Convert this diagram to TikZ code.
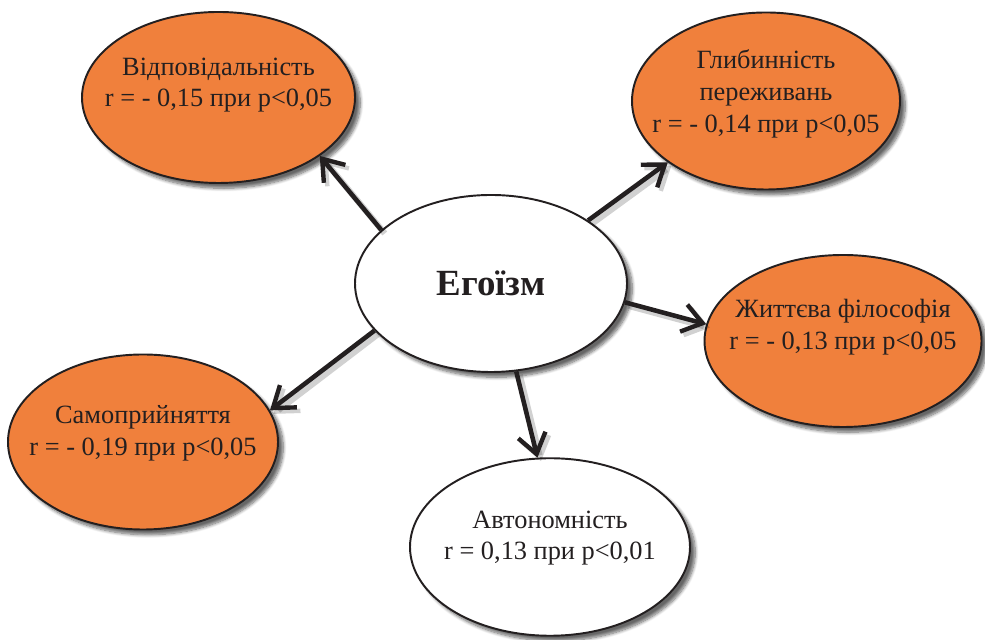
\documentclass[tikz,border=0pt]{standalone}
\usepackage{fontspec}
\setmainfont{Liberation Serif}
\usepackage{tikz}
\usetikzlibrary{shapes,arrows.meta,shadows,shadows.blur,positioning}
\definecolor{egoorange}{RGB}{240,128,60}
\definecolor{egotext}{RGB}{35,31,32}

\begin{document}
\begin{tikzpicture}[>={Straight Barb[length=3.9mm,width=5.6mm,line width=2.5pt]},
  font=\fontsize{15}{18}\selectfont]
\tikzset{bubble/.style = {draw=egotext, ellipse, line width=1.1pt,
  inner sep=-1cm, fill=egoorange,
  blur shadow={shadow xshift=3pt, shadow yshift=-3pt, shadow blur steps=8,
    shadow opacity=60}}}
\tikzset{caption/.style = {align=center, text=egotext, yshift=5pt}}
\tikzset{link/.style = {->, line width=2.6pt, draw=egotext,
  preaction={draw=black, opacity=.18, line width=3.5pt,
    transform canvas={xshift=2pt, yshift=-2pt}}}}

  \useasboundingbox (0,0) rectangle (19.7,12.8);

  \node[bubble, fill=white, minimum width=5.44cm, minimum height=3.54cm,
    label={[caption, yshift=-5pt, font=\fontsize{21}{24}\selectfont\bfseries]center:Егоїзм}]
    at (9.82,7.13) (egoism){};

  \node[bubble, minimum width=5.46cm, minimum height=3.42cm,
    label={[caption, yshift=2pt]center:Відповідальність\\r = - 0,15 при p<0,05}]
    at (4.37,10.85) (resp){};
  \node[bubble, minimum width=5.36cm, minimum height=3.54cm,
    label={[caption, yshift=-1pt]center:Глибинність\\переживань\\r = - 0,14 при p<0,05}]
    at (15.32,10.78) (depth){};
  \node[bubble, minimum width=5.54cm, minimum height=3.44cm,
    label={[caption, yshift=3pt]center:Життєва філософія\\r = - 0,13 при p<0,05}]
    at (16.86,5.98) (life){};
  \node[bubble, minimum width=5.4cm, minimum height=3.5cm,
    label={[caption]center:Самоприйняття\\r = - 0,19 при p<0,05}]
    at (2.86,3.96) (selfacc){};
  \node[bubble, fill=white, minimum width=5.6cm, minimum height=3.55cm,
    label={[caption]center:Автономність\\r = 0,13 при p<0,01}]
    at (11.0,1.86) (auton){};

  \draw[link] (egoism.154.3) -- (resp.-30.4);
  \draw[link] (egoism.33.5) -- (depth.212.9);
  \draw[link] (egoism.-8.3) -- (life.173.4);
  \draw[link] (egoism.202.7) -- (selfacc.14.8);
  \draw[link] (egoism.-74.8) -- (auton.98.3);

\end{tikzpicture}
\end{document}
